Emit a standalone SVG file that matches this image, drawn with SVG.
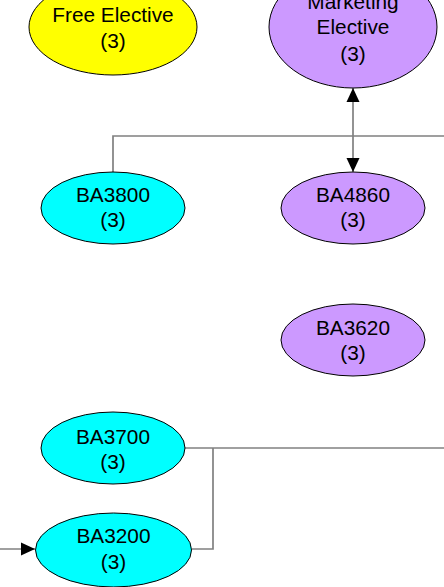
<svg xmlns="http://www.w3.org/2000/svg" width="444" height="587" viewBox="0 0 444 587">
<style>
.n{stroke:#000;stroke-width:1}
.y{fill:#FFFF00}.c{fill:#00FFFF}.p{fill:#CC99FF}
text{font-family:"Liberation Sans",Arial,sans-serif;font-size:20.8px;fill:#000;text-anchor:middle}
.e{fill:none;stroke:#808080;stroke-width:1.7}
</style>
<defs>
<marker id="ah" markerUnits="userSpaceOnUse" markerWidth="14" markerHeight="14" viewBox="0 0 14 14" refX="14" refY="7" orient="auto">
<path d="M0,0.5 L14,7 L0,13.5 Z" fill="#000"/>
</marker>
</defs>
<rect width="444" height="587" fill="#fff"/>
<g id="connectors">
<path class="e" d="M113,172 V136 H444"/>
<path class="e" d="M353,136 V88" marker-end="url(#ah)"/>
<path class="e" d="M353,136 V172" marker-end="url(#ah)"/>
<path class="e" d="M185,448 H444"/>
<path class="e" d="M192,549 H213 V448"/>
<path class="e" d="M0,549 H35" marker-end="url(#ah)"/>
</g>
<g id="free-elective">
<ellipse class="n y" cx="113" cy="27" rx="84" ry="48"/>
<text x="113" y="21.7">Free Elective</text>
<text x="113" y="47.7">(3)</text>
</g>
<g id="marketing-elective">
<ellipse class="n p" cx="353" cy="27" rx="84" ry="61"/>
<text x="353" y="8.5">Marketing</text>
<text x="353" y="34.3">Elective</text>
<text x="353" y="60.5">(3)</text>
</g>
<g id="BA3800">
<ellipse class="n c" cx="113" cy="208" rx="72" ry="36"/>
<text x="113" y="202.3">BA3800</text>
<text x="113" y="227.3">(3)</text>
</g>
<g id="BA4860">
<ellipse class="n p" cx="353" cy="208" rx="72" ry="36"/>
<text x="353" y="202.3">BA4860</text>
<text x="353" y="227.3">(3)</text>
</g>
<g id="BA3620">
<ellipse class="n p" cx="353" cy="340" rx="72" ry="36"/>
<text x="353" y="335">BA3620</text>
<text x="353" y="360">(3)</text>
</g>
<g id="BA3700">
<ellipse class="n c" cx="113" cy="448" rx="72" ry="36"/>
<text x="113" y="443.8">BA3700</text>
<text x="113" y="469">(3)</text>
</g>
<g id="BA3200">
<ellipse class="n c" cx="113.5" cy="550" rx="78" ry="37"/>
<text x="113.5" y="543.3">BA3200</text>
<text x="113.5" y="569.3">(3)</text>
</g>
</svg>
